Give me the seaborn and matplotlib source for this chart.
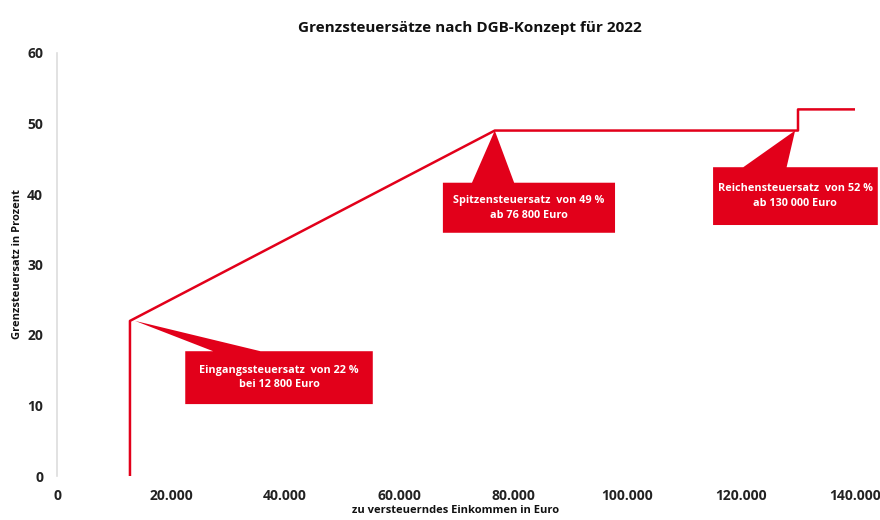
import matplotlib
matplotlib.use("Agg")
import matplotlib.pyplot as plt
from matplotlib.patches import Polygon
import seaborn as sns
import pandas as pd

# Data
income = [12800, 12800, 76800, 130000, 130000, 140000]
rate = [0, 22, 49, 49, 52, 52]
x_ticks = [0, 20000, 40000, 60000, 80000, 100000, 120000, 140000]
x_tick_labels = ["0", "20.000", "40.000", "60.000", "80.000", "100.000", "120.000", "140.000"]
y_ticks = [0, 10, 20, 30, 40, 50, 60]
title = "Grenzsteuersätze nach DGB-Konzept für 2022"
x_label = "zu versteuerndes Einkommen in Euro"
y_label = "Grenzsteuersatz in Prozent"
callout_texts = ["Eingangssteuersatz  von 22 %\nbei 12 800 Euro",
                 "Spitzensteuersatz  von 49 %\nab 76 800 Euro",
                 "Reichensteuersatz  von 52 %\nab 130 000 Euro"]
callout_points = [(13700, 22), (76800, 49), (129500, 49)]

RED = "#E2001A"
sns.set_theme(style="white")
plt.rcParams["font.family"] = ["Open Sans", "DejaVu Sans"]

df = pd.DataFrame({"income": income, "rate": rate})
fig = plt.figure(figsize=(8.8, 5.2), dpi=100)
ax = fig.add_axes([57/880, 1-476/520, (855-57)/880, (476-53)/520])
sns.lineplot(data=df, x="income", y="rate", sort=False, estimator=None,
             color=RED, linewidth=1.8, ax=ax)

ax.set_xlim(0, 140000)
ax.set_ylim(0, 60)
ax.set_xticks(x_ticks)
ax.set_xticklabels(x_tick_labels)
ax.set_yticks(y_ticks)
for lab in ax.get_xticklabels() + ax.get_yticklabels():
    lab.set_fontweight("bold")
    lab.set_fontsize(10)
    lab.set_color("#222222")
ax.tick_params(axis="both", length=0)
ax.tick_params(axis="x", pad=9)
ax.tick_params(axis="y", pad=10)
for s in ["top", "right", "bottom"]:
    ax.spines[s].set_visible(False)
ax.spines["left"].set_color("#dddddd")
ax.spines["left"].set_linewidth(1.2)
ax.set_xlabel(x_label, fontsize=8, fontweight="bold", color="#111111", labelpad=2)
ax.set_ylabel(y_label, fontsize=8, fontweight="bold", color="#111111", labelpad=3)
fig.suptitle(title, fontsize=11, fontweight="bold", color="#111111", x=0.534, y=0.96)

# Callout boxes (data coords): (x0, x1, y0, y1), triangle base (bx0, bx1)
boxes = [(22500, 55400, 10.2, 17.7, 27400, 35700),
         (67700, 97900, 34.5, 41.6, 72800, 80200),
         (115100, 144000, 35.6, 43.8, 120400, 128000)]
for (x0, x1, y0, y1, bx0, bx1), pt, txt in zip(boxes, callout_points, callout_texts):
    poly = Polygon([(x0, y0), (x0, y1), (bx0, y1), pt, (bx1, y1), (x1, y1), (x1, y0)],
                   closed=True, facecolor=RED, edgecolor="none", clip_on=False, zorder=3)
    ax.add_patch(poly)
    ax.text((x0 + x1) / 2, (y0 + y1) / 2, txt, ha="center", va="center",
            color="white", fontsize=7.8, fontweight="bold", zorder=4,
            linespacing=1.45, clip_on=False)

fig.savefig("out.png", dpi=100)
